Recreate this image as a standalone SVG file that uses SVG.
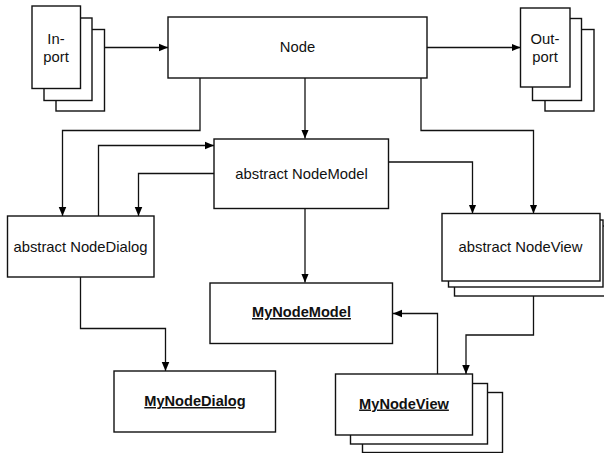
<svg xmlns="http://www.w3.org/2000/svg" width="604" height="453" viewBox="0 0 604 453">
<defs>
<marker id="arr" viewBox="0 0 10 10" refX="10" refY="5" markerWidth="9" markerHeight="9" markerUnits="userSpaceOnUse" orient="auto">
<path d="M0,0.8 L10,5 L0,9.2 Z" fill="#000"/>
</marker>
</defs>
<style>
rect{fill:#fff;stroke:#111;stroke-width:1.4}
.c path{fill:none;stroke:#111;stroke-width:1.3;marker-end:url(#arr)}
text{font-family:"Liberation Sans",Arial,sans-serif;font-size:14.8px;fill:#111;text-anchor:middle}
.b{font-weight:bold;font-size:14.6px;text-decoration:underline}
</style>
<rect x="0" y="0" width="604" height="453" style="fill:#fff;stroke:none"/>
<g class="c" id="connectors">
<path d="M80,47.5 H168"/>
<path d="M427,47.5 H520.5"/>
<path d="M305,78 V138.5"/>
<path d="M200,78 V130.5 H62.5 V216"/>
<path d="M421,78 V130.5 H533.5 V213.5"/>
<path d="M388.5,162 H472.5 V213.5"/>
<path d="M98.5,216 V145.5 H214"/>
<path d="M214,173.5 H138.5 V216"/>
<path d="M305,208.5 V282.5"/>
<path d="M80.5,277 V328.5 H165.5 V371"/>
<path d="M533.5,296 V335 H466 V374"/>
<path d="M437.5,374 V313.5 H393"/>
</g>
<g id="inport">
<rect x="56" y="29.5" width="48.5" height="81.5"/>
<rect x="44" y="18" width="48" height="82.5"/>
<rect x="32" y="6" width="48.5" height="82.5"/>
<text x="56" y="43.5">In-</text>
<text x="56" y="61.5">port</text>
</g>
<g id="outport">
<rect x="545" y="29.5" width="49" height="81.5"/>
<rect x="532.5" y="18.5" width="49" height="82"/>
<rect x="520.5" y="8" width="49.5" height="79"/>
<text x="545" y="43.5">Out-</text>
<text x="545" y="61.5">port</text>
</g>
<g id="node">
<rect x="168" y="17" width="259" height="61"/>
<text x="297.5" y="52">Node</text>
</g>
<g id="nodemodel">
<rect x="214" y="139" width="174.5" height="69.5"/>
<text x="301.5" y="178.5">abstract NodeModel</text>
</g>
<g id="nodedialog">
<rect x="7.5" y="216" width="146.5" height="61"/>
<text x="80.5" y="252">abstract NodeDialog</text>
</g>
<g id="nodeview">
<rect x="454.5" y="226" width="160" height="70"/>
<rect x="448.5" y="220" width="154.5" height="67"/>
<rect x="442" y="213.5" width="158" height="67.5"/>
<text x="520.5" y="252">abstract NodeView</text>
</g>
<g id="mynodemodel">
<rect x="210" y="283" width="182.5" height="60.5"/>
<text class="b" x="301.5" y="317">MyNodeModel</text>
</g>
<g id="mynodedialog">
<rect x="114" y="371" width="161.5" height="61"/>
<text class="b" x="195" y="406">MyNodeDialog</text>
</g>
<g id="mynodeview">
<rect x="362.5" y="392.5" width="140" height="60"/>
<rect x="350.5" y="383.5" width="137" height="60.5"/>
<rect x="335.5" y="374" width="137" height="61"/>
<text class="b" x="404" y="408.5">MyNodeView</text>
</g>
</svg>
